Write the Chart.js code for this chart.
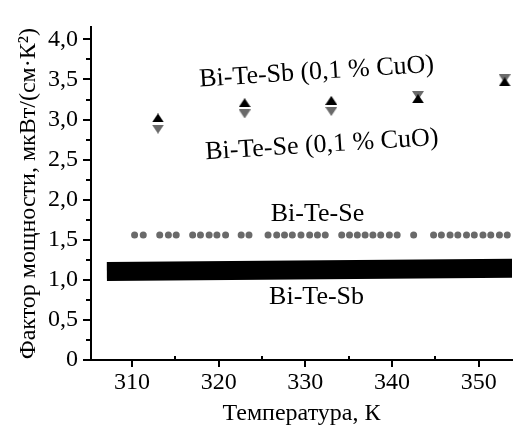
<!DOCTYPE html>
<html>
<head>
<meta charset="utf-8">
<script src="https://cdn.jsdelivr.net/npm/chart.js@4.4.1/dist/chart.umd.min.js"></script>
<style>
  html, body { margin: 0; padding: 0; background: #fff; }
  #wrap { width: 519px; height: 425px; }
</style>
</head>
<body>
<div id="wrap"><canvas id="c" width="519" height="425"></canvas></div>
<script>
// Measurement temperatures for the CuO-doped samples, K
const temps = [313, 323, 333, 343, 353];
// Power factor, μW/(cm·K²)
const sbCuO = [3.02, 3.21, 3.24, 3.26, 3.47];
const seCuO = [2.88, 3.07, 3.10, 3.30, 3.51];

// Undoped Bi-Te-Se: dense run of measurements
const seTemps = [310.3, 311.3, 313.2, 314.2, 315.1, 317.0, 317.9, 318.9, 319.8, 320.8,
                 322.6, 323.5, 325.7, 326.7, 327.6, 328.5, 329.5, 330.5, 331.4, 332.3,
                 334.2, 335.1, 336.0, 336.9, 337.8, 338.7, 339.7, 340.6, 342.5,
                 344.8, 345.7, 346.7, 347.6, 348.6, 349.5, 350.5, 351.4, 352.4, 353.3];
const seValues = [1.56, 1.56, 1.56, 1.56, 1.56, 1.56, 1.56, 1.56, 1.56, 1.56,
                  1.56, 1.56, 1.56, 1.56, 1.56, 1.56, 1.56, 1.56, 1.56, 1.56,
                  1.56, 1.56, 1.56, 1.56, 1.56, 1.56, 1.56, 1.56, 1.56,
                  1.56, 1.56, 1.56, 1.56, 1.56, 1.56, 1.56, 1.56, 1.56, 1.56];

// Undoped Bi-Te-Sb: continuous band
const sbTemps = [307.1, 353.9];
const sbValues = [1.105, 1.145];

// Axis ticks
const xTicks = [310, 320, 330, 340, 350];
const xMinor = [315, 325, 335, 345];
const yTicks = [0, 0.5, 1, 1.5, 2, 2.5, 3, 3.5, 4];
const yTickLabels = ['0', '0,5', '1,0', '1,5', '2,0', '2,5', '3,0', '3,5', '4,0'];
const yMinor = [0.25, 0.75, 1.25, 1.75, 2.25, 2.75, 3.25, 3.75];

// Series captions placed in data units
const captions = [
  { text: 'Bi-Te-Sb (0,1 % CuO)', t: 331.3, v: 3.59, angle: -3.6 },
  { text: 'Bi-Te-Se (0,1 % CuO)', t: 331.9, v: 2.68, angle: -3.6 },
  { text: 'Bi-Te-Se', t: 331.4, v: 1.82, angle: 0 },
  { text: 'Bi-Te-Sb', t: 331.3, v: 0.78, angle: 0 }
];

const FONT = "'Liberation Serif'";
const GRAY = '#6a6a6a';

function triangleSprite(color, up) {
  const c = document.createElement('canvas');
  c.width = 12; c.height = 9;
  const g = c.getContext('2d');
  g.fillStyle = color;
  g.beginPath();
  if (up) { g.moveTo(6, 0); g.lineTo(12, 9); g.lineTo(0, 9); }
  else { g.moveTo(0, 0); g.lineTo(12, 0); g.lineTo(6, 9); }
  g.closePath();
  g.fill();
  return c;
}

const toPts = (xs, ys) => xs.map((x, i) => ({ x, y: ys[i] }));

// Tick marks: majors outward, x minors inward, y minors outward
const axisTicks = {
  id: 'axisTicks',
  afterDraw(chart) {
    const { ctx, scales: { x, y }, chartArea: a } = chart;
    ctx.save();
    ctx.strokeStyle = '#000';
    ctx.lineWidth = 2;
    const seg = (x1, y1, x2, y2) => { ctx.beginPath(); ctx.moveTo(x1, y1); ctx.lineTo(x2, y2); ctx.stroke(); };
    const ax = a.left - 1;
    const ay = a.bottom + 1;
    yTicks.forEach(v => { const p = Math.round(y.getPixelForValue(v)); seg(ax - 7, p, ax, p); });
    yMinor.forEach(v => { const p = Math.round(y.getPixelForValue(v)); seg(ax - 4, p, ax, p); });
    xTicks.forEach(v => { const p = Math.round(x.getPixelForValue(v)); seg(p, ay, p, ay + 6); });
    xMinor.forEach(v => { const p = Math.round(x.getPixelForValue(v)); seg(p, ay, p, ay - 5); });
    ctx.restore();
  }
};

const seriesCaptions = {
  id: 'seriesCaptions',
  afterDatasetsDraw(chart) {
    const { ctx, scales: { x, y } } = chart;
    ctx.save();
    ctx.fillStyle = '#000';
    ctx.textAlign = 'center';
    ctx.textBaseline = 'middle';
    ctx.font = '26px ' + FONT;
    captions.forEach(c => {
      ctx.save();
      ctx.translate(x.getPixelForValue(c.t), y.getPixelForValue(c.v));
      ctx.rotate(c.angle * Math.PI / 180);
      ctx.fillText(c.text, 0, 0);
      ctx.restore();
    });
    ctx.restore();
  }
};

Chart.defaults.font.family = FONT;

new Chart(document.getElementById('c'), {
  type: 'scatter',
  data: {
    datasets: [
      {
        label: 'Bi-Te-Sb (0,1 % CuO)',
        data: toPts(temps, sbCuO),
        pointStyle: triangleSprite('#000', true),
        pointRadius: 6
      },
      {
        label: 'Bi-Te-Se (0,1 % CuO)',
        data: toPts(temps, seCuO),
        pointStyle: triangleSprite(GRAY, false),
        pointRadius: 6
      },
      {
        label: 'Bi-Te-Se',
        data: toPts(seTemps, seValues),
        pointStyle: 'circle',
        pointRadius: 3.5,
        backgroundColor: GRAY,
        borderWidth: 0
      },
      {
        label: 'Bi-Te-Sb',
        type: 'line',
        data: toPts(sbTemps, sbValues),
        borderColor: '#000',
        borderWidth: 19,
        borderCapStyle: 'butt',
        pointRadius: 0,
        fill: false,
        tension: 0
      }
    ]
  },
  options: {
    responsive: false,
    animation: false,
    devicePixelRatio: 1,
    layout: { padding: { top: 23, right: 0, bottom: 0, left: 0 } },
    plugins: { legend: { display: false }, tooltip: { enabled: false } },
    scales: {
      x: {
        type: 'linear',
        min: 305.27,
        max: 353.85,
        afterBuildTicks: s => { s.ticks = xTicks.map(v => ({ value: v })); },
        afterFit: s => { s.height = 65; },
        ticks: {
          autoSkip: false,
          maxRotation: 0,
          padding: 8,
          color: '#000',
          font: { family: FONT, size: 24 },
          callback: v => String(v)
        },
        grid: { display: false, drawTicks: false },
        border: { display: true, color: '#000', width: 2 },
        title: {
          display: true,
          text: 'Температура, К',
          color: '#000',
          font: { family: FONT, size: 24 },
          padding: { top: 0, bottom: -3 }
        }
      },
      y: {
        type: 'linear',
        min: 0,
        max: 4.15,
        afterBuildTicks: s => { s.ticks = yTicks.map(v => ({ value: v })); },
        afterFit: s => { s.width = 91; },
        ticks: {
          padding: 13,
          color: '#000',
          font: { family: FONT, size: 24 },
          callback: v => yTickLabels[yTicks.indexOf(v)]
        },
        grid: { display: false, drawTicks: false },
        border: { display: true, color: '#000', width: 2 },
        title: {
          display: true,
          text: 'Фактор мощности, мкВт/(см·К²)',
          color: '#000',
          font: { family: FONT, size: 24 },
          padding: { top: 14, bottom: 0 }
        }
      }
    }
  },
  plugins: [axisTicks, seriesCaptions]
});
</script>
</body>
</html>
